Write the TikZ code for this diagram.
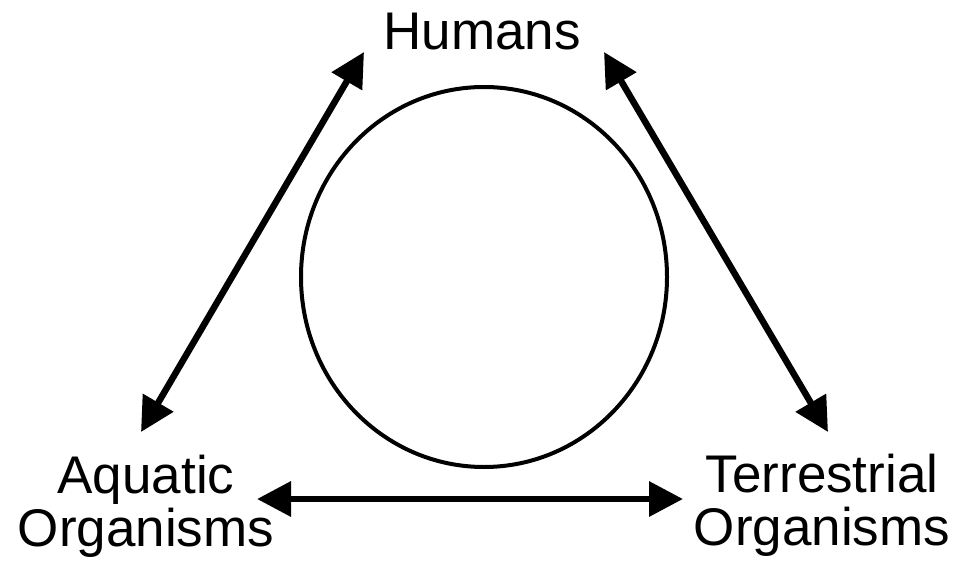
\documentclass[tikz,border=0pt]{standalone}
\usepackage{fontspec}
\setmainfont{Liberation Sans}
\usetikzlibrary{arrows.meta, positioning, shapes.geometric}
\tikzset{
  every picture/.style={x=1pt, y=-1pt},
  label text/.style={font=\fontsize{53}{53}\selectfont, align=center, inner sep=0pt},
  link/.style={{Triangle[length=34pt, width=34pt]}-{Triangle[length=34pt, width=34pt]}, line width=6.5pt},
}

\begin{document}
\begin{tikzpicture}
  \useasboundingbox (0,0) rectangle (957,569);
  % the three groups
  \node[label text, anchor=base] (humans) at (482, 50) {Humans};
  \node[label text, anchor=north] (aquatic) at (146, 455) {Aquatic\\Organisms};
  \node[label text, anchor=north] (terrestrial) at (822, 454) {Terrestrial\\Organisms};
  % middle circle
  \node[draw, line width=4pt, ellipse, minimum width=366pt, minimum height=380pt, inner sep=0pt] (cycle) at (484, 277) {};
  % arrow ends
  \coordinate (h-left) at (364, 52);
  \coordinate (a-top) at (141, 432);
  \coordinate (h-right) at (604, 52);
  \coordinate (t-top) at (828, 432);
  \coordinate (a-right) at (257, 499);
  \coordinate (t-left) at (683, 499);
  \draw[link] (a-top) -- (h-left);
  \draw[link] (h-right) -- (t-top);
  \draw[link] (a-right) -- (t-left);
\end{tikzpicture}
\end{document}
